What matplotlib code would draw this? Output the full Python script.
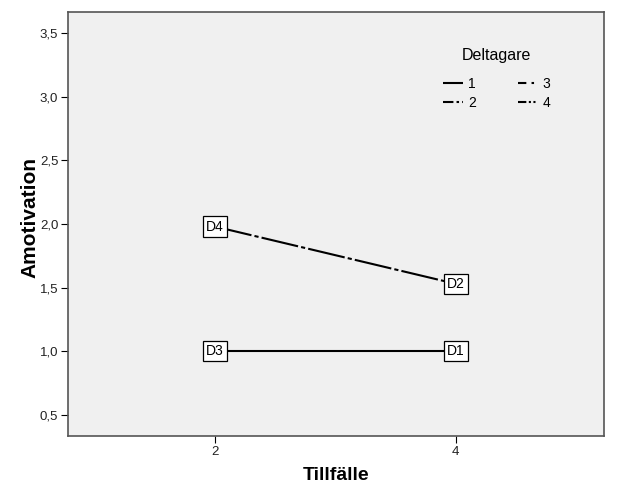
import matplotlib
matplotlib.use("Agg")
import matplotlib.pyplot as plt
from matplotlib.lines import Line2D

plt.rcParams['font.family'] = ['Liberation Sans', 'DejaVu Sans']

# Data
times = [2, 4]
series_a = [1.0, 1.0]          # D3 -> D1 (solid)
series_b = [1.98, 1.53]        # D4 -> D2 (dash-dot)
labels_a = ["D3", "D1"]
labels_b = ["D4", "D2"]
legend_labels = ["1", "2", "3", "4"]
yticks = [0.5, 1.0, 1.5, 2.0, 2.5, 3.0, 3.5]
ytick_labels = ["0,5", "1,0", "1,5", "2,0", "2,5", "3,0", "3,5"]

fig = plt.figure(figsize=(6.25, 5), dpi=100)
fig.patch.set_facecolor("white")
ax = fig.add_axes([68/625, 64/500, (604-68)/625, (436-12)/500])
ax.set_facecolor("#f0f0f0")

styles = {
    "1": (0, ()),
    "2": (0, (5, 1.5, 1.2, 1.5)),
    "3": (0, (4, 2.5, 1.2, 2.5)),
    "4": (0, (4, 1.2, 1.0, 1.2, 1.0, 1.2)),
}

ax.plot(times, series_a, color="black", lw=1.5, linestyle="-", zorder=2)
ax.plot(times, series_b, color="black", lw=1.5, linestyle=(0, (18, 1.5, 2, 1.5)), zorder=2)

box = dict(boxstyle="square,pad=0.22", facecolor="white", edgecolor="black", lw=0.9)
for x, y, t in zip(times, series_a, labels_a):
    ax.text(x, y, t, ha="center", va="center", fontsize=10, bbox=box, zorder=3)
for x, y, t in zip(times, series_b, labels_b):
    ax.text(x, y, t, ha="center", va="center", fontsize=10, bbox=box, zorder=3)

ax.set_xlim(0.78, 5.23)
ax.set_ylim(0.335, 3.665)
ax.set_xticks(times)
ax.set_xticklabels([str(t) for t in times], fontsize=9.5)
ax.set_yticks(yticks)
ax.set_yticklabels(ytick_labels, fontsize=9.5)
ax.tick_params(direction="out", length=5, width=0.8, colors="black", labelcolor="#222222", pad=2)

for s in ax.spines.values():
    s.set_color("#555555")
    s.set_linewidth(1.2)

ax.set_xlabel("Tillfälle", fontsize=14, fontweight="bold", labelpad=7)
ax.set_ylabel("Amotivation", fontsize=15, fontweight="bold", labelpad=0)
ax.yaxis.label.set_y(0.516)

handles = [Line2D([], [], color="black", lw=1.5, linestyle=styles[k]) for k in legend_labels]
leg = ax.legend(handles, legend_labels, title="Deltagare", ncol=2, frameon=False,
                loc="upper left", bbox_to_anchor=(0.70, 0.915), fontsize=10,
                title_fontsize=11.5, handlelength=1.4, handletextpad=0.4,
                columnspacing=3.0, labelspacing=0.35, borderpad=0, borderaxespad=0)
leg._legend_box.sep = 10

fig.savefig("out.png", dpi=100)
